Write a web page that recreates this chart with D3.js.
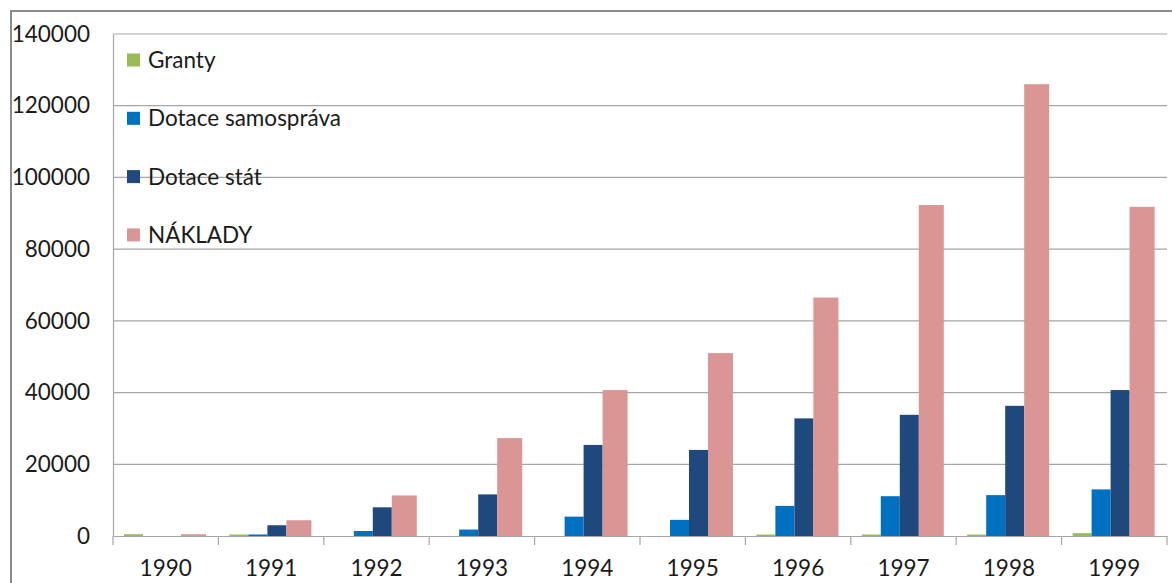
<!DOCTYPE html>
<html>
<head>
<meta charset="utf-8">
<script src="https://cdn.jsdelivr.net/npm/d3@7"></script>
<style>
  html, body { margin: 0; padding: 0; background: #fff; }
  svg { display: block; }
  text { font-family: Lato, "Liberation Sans", sans-serif; fill: #1a1a1a; }
</style>
</head>
<body>
<svg id="chart" width="1172" height="583"></svg>
<script>
// roky
var years = ["1990", "1991", "1992", "1993", "1994", "1995", "1996", "1997", "1998", "1999"];

// řady
var granty     = [500, 300, 0, 0, 0, 0, 400, 300, 400, 800];
var samosprava = [0, 300, 1400, 1800, 5400, 4500, 8400, 11100, 11400, 13000];
var stat       = [0, 3000, 8000, 11600, 25400, 24000, 32800, 33800, 36300, 40700];
var naklady    = [500, 4400, 11300, 27300, 40700, 51000, 66500, 92300, 126000, 91800];

var seriesNames = ["Granty", "Dotace samospráva", "Dotace stát", "NÁKLADY"];
var seriesValues = [granty, samosprava, stat, naklady];
var colors = ["#9bbb59", "#0070c0", "#1f497d", "#d99694"];

var yTicks = [0, 20000, 40000, 60000, 80000, 100000, 120000, 140000];

(function() {
  var svg = d3.select("#chart"),
      mLeft = 113, mRight = 1167, mTop = 34, mBottom = 536,
      fontSize = 22.5;

  // vnější rámeček
  svg.append("rect")
    .attr("x", 11).attr("y", 11)
    .attr("width", 1200).attr("height", 700)
    .attr("fill", "none")
    .attr("stroke", "#8c8c8c")
    .attr("stroke-width", 2);

  var x0 = d3.scaleBand().domain(years).range([mLeft, mRight]).padding(0);
  var x1 = d3.scaleBand().domain(seriesNames).range([11, 87]).padding(0);
  var y = d3.scaleLinear().domain([0, 140000]).range([mBottom, mTop]);

  // mřížka
  svg.append("g")
    .selectAll("line")
    .data(yTicks.slice(1))
    .join("line")
    .attr("x1", mLeft).attr("x2", mRight)
    .attr("y1", function(d) { return y(d); })
    .attr("y2", function(d) { return y(d); })
    .attr("stroke", "#a6a6a6")
    .attr("stroke-width", 1.2);

  // osa y
  var yAxis = svg.append("g")
    .attr("transform", "translate(" + mLeft + ",0)")
    .call(d3.axisLeft(y).tickValues(yTicks).tickSize(0).tickPadding(23).tickFormat(d3.format("d")));
  yAxis.select(".domain").attr("stroke", "#a6a6a6").attr("stroke-width", 1.2);
  yAxis.selectAll("text").attr("font-size", fontSize).attr("font-family", "Lato, sans-serif").attr("fill", "#1a1a1a");

  // sloupce
  var groups = svg.append("g")
    .selectAll("g")
    .data(years)
    .join("g")
    .attr("transform", function(d) { return "translate(" + x0(d) + ",0)"; });

  groups.selectAll("rect")
    .data(function(d, i) {
      return seriesNames.map(function(s, k) { return { s: s, k: k, v: seriesValues[k][i] }; });
    })
    .join("rect")
    .attr("x", function(d) { return x1(d.s); })
    .attr("width", function(d) { return d.k === 3 ? x1.bandwidth() + 6 : x1.bandwidth(); })
    .attr("y", function(d) { return d.v > 0 ? Math.min(y(d.v), y(0) - 1.5) : y(0); })
    .attr("height", function(d) { return d.v > 0 ? Math.max(1.5, y(0) - y(d.v)) : 0; })
    .attr("fill", function(d) { return colors[d.k]; });

  // osa x
  var xAxis = svg.append("g")
    .attr("transform", "translate(0," + mBottom + ")")
    .call(d3.axisBottom(x0).tickSize(0).tickPadding(24));
  xAxis.select(".domain").attr("stroke", "#a6a6a6").attr("stroke-width", 1.2);
  xAxis.selectAll("text").attr("font-size", fontSize).attr("font-family", "Lato, sans-serif").attr("fill", "#1a1a1a");

  // značky mezi kategoriemi
  var bounds = years.map(function(d) { return x0(d); }).concat([mRight]);
  svg.append("g")
    .selectAll("line")
    .data(bounds)
    .join("line")
    .attr("x1", function(d) { return d; }).attr("x2", function(d) { return d; })
    .attr("y1", mBottom).attr("y2", mBottom + 9)
    .attr("stroke", "#a6a6a6")
    .attr("stroke-width", 1.2);

  // legenda
  var legend = svg.append("g")
    .selectAll("g")
    .data(seriesNames)
    .join("g")
    .attr("transform", function(d, i) { return "translate(127," + (60 + i * 58.3) + ")"; });

  legend.append("rect")
    .attr("x", 0).attr("y", -6.5)
    .attr("width", 13).attr("height", 13)
    .attr("fill", function(d, i) { return colors[i]; });

  legend.append("text")
    .attr("x", 21).attr("y", 0)
    .attr("dy", "0.36em")
    .attr("font-size", fontSize)
    .text(function(d) { return d; });
})();
</script>
</body>
</html>
